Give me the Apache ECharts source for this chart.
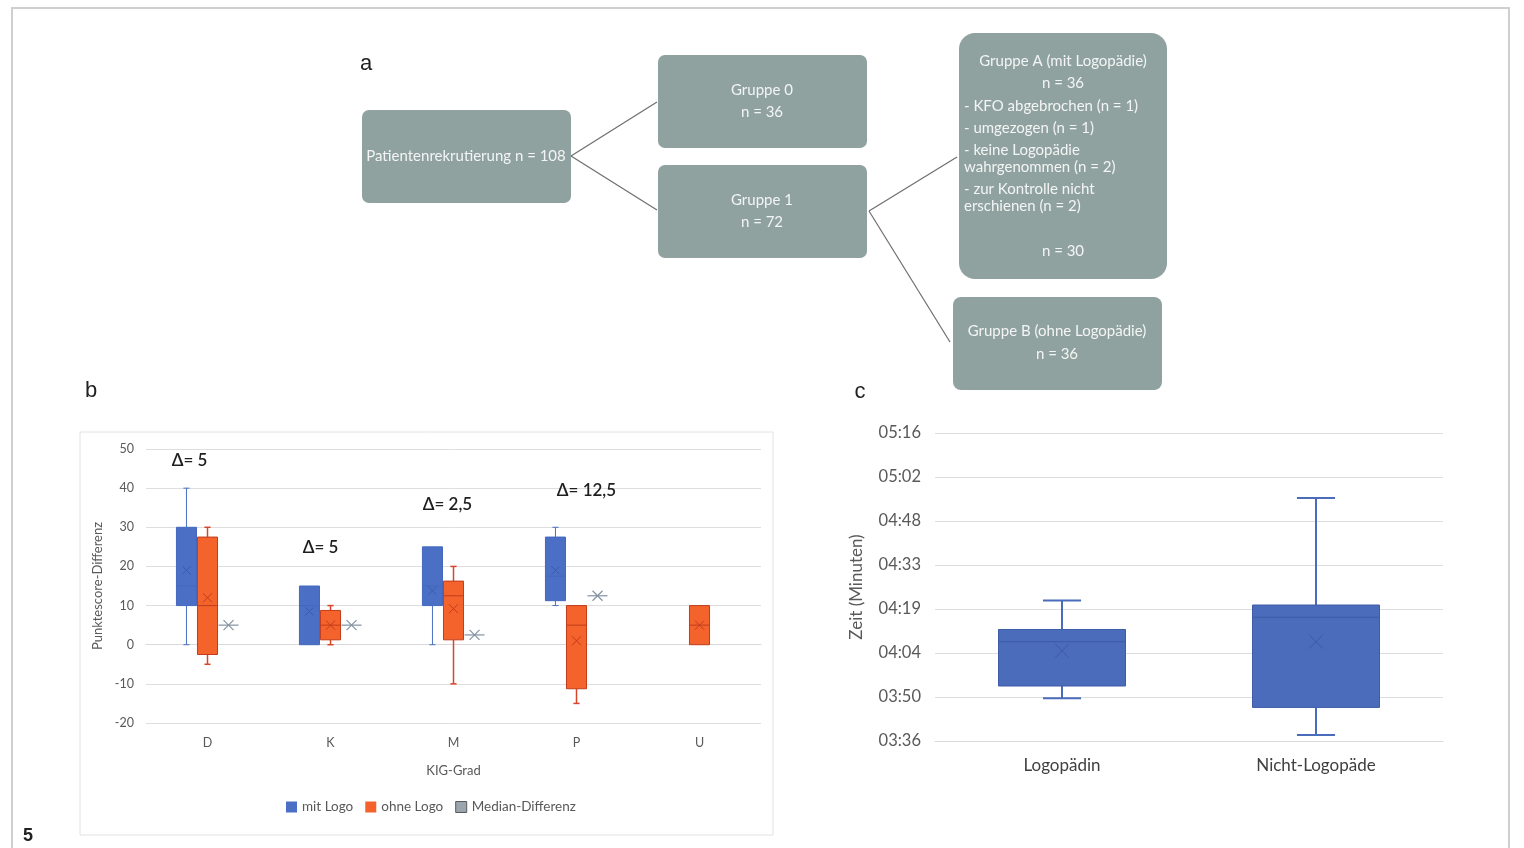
<!DOCTYPE html>
<html>
<head>
<meta charset="utf-8">
<script src="https://cdn.jsdelivr.net/npm/echarts@6/dist/echarts.min.js"></script>
<style>
  html, body { margin: 0; padding: 0; background: #ffffff; }
  #main { width: 1524px; height: 848px; }
</style>
</head>
<body>
<div id="main"></div>
<script>
// ---------- Panel b: score differences per KIG grade ----------
const kigCategories = ['D', 'K', 'M', 'P', 'U'];
// per grade: [min, q1, median, q3, max, mean]; null = no patients in that group
const mitLogo = [
  [0, 10, 15, 30, 40, 19],
  [0, 0, 10, 15, 15, 8.5],
  [0, 10, 15, 25, 25, 13.8],
  [10, 11.25, 17.5, 27.5, 30, 19],
  null
];
const ohneLogo = [
  [-5, -2.5, 10, 27.5, 30, 12],
  [0, 1.25, 5, 8.75, 10, 5],
  [-10, 1.25, 12.5, 16.25, 20, 9.2],
  [-15, -11.25, 5, 10, 10, 1],
  [0, 0, 5, 10, 10, 5]
];
const medianDiff = [5, 5, 2.5, 12.5, null];
const scoreAxis = { min: -20, max: 50, step: 10 };

// ---------- Panel c: session time (seconds) ----------
const therapistGroups = ['Logopädin', 'Nicht-Logopäde'];
// [min, q1, median, q3, max, mean] in seconds
const zeitStats = [
  [230, 234, 248.5, 252.5, 262, 245.5],
  [218, 227, 256.5, 260.5, 295.5, 248.5]
];
const zeitAxis = { min: 216, max: 316.8, step: 14.4 };

// ---------- flow chart texts ----------
const flowRecruit = 'Patientenrekrutierung n = 108';
const flowGroup0 = ['Gruppe 0', 'n = 36'];
const flowGroup1 = ['Gruppe 1', 'n = 72'];
const flowGroupAHead = ['Gruppe A (mit Logopädie)', 'n = 36'];
const flowGroupADropouts = ['- KFO abgebrochen (n = 1)', '- umgezogen (n = 1)', '- keine Logopädie', 'wahrgenommen (n = 2)', '- zur Kontrolle nicht', 'erschienen (n = 2)'];
const flowGroupAFinal = 'n = 30';
const flowGroupB = ['Gruppe B (ohne Logopädie)', 'n = 36'];

const BLUE = '#4a6fc5', BLUE_EDGE = '#4468be', BLUE_DARK = '#3b5cab';
const ORANGE = '#f3632b', ORANGE_DARK = '#c23c1b';
const GRAY = '#9aa5ad', GRAY_DARK = '#8391a0';
const BLUE_C = '#4a6cba', BLUE_C_DARK = '#3d5ba6';
const FONT = 'Lato, "Open Sans", sans-serif';

// draws one box-and-whisker glyph from [ci, min, q1, med, q3, max, mean]
function boxRenderer(cfg) {
  return function (params, api) {
    const ci = api.value(0);
    const band = api.size([1, 0])[0];
    const cx = api.coord([ci, 0])[0] + cfg.offset * band;
    const w = cfg.width * band;
    const cap = cfg.cap * band;
    const y = v => api.coord([ci, v])[1];
    const vMin = api.value(1), q1 = api.value(2), med = api.value(3),
          q3 = api.value(4), vMax = api.value(5), mean = api.value(6);
    const kids = [];
    const wl = { stroke: cfg.whisker, lineWidth: cfg.whiskerWidth };
    if (vMax > q3) {
      kids.push({ type: 'line', shape: { x1: cx, y1: y(vMax), x2: cx, y2: y(q3) }, style: wl });
      kids.push({ type: 'line', shape: { x1: cx - cap / 2, y1: y(vMax), x2: cx + cap / 2, y2: y(vMax) }, style: wl });
    }
    if (vMin < q1) {
      kids.push({ type: 'line', shape: { x1: cx, y1: y(q1), x2: cx, y2: y(vMin) }, style: wl });
      kids.push({ type: 'line', shape: { x1: cx - cap / 2, y1: y(vMin), x2: cx + cap / 2, y2: y(vMin) }, style: wl });
    }
    kids.push({
      type: 'rect',
      shape: { x: cx - w / 2, y: y(q3), width: w, height: y(q1) - y(q3) },
      style: { fill: cfg.fill, stroke: cfg.border, lineWidth: 1 }
    });
    kids.push({ type: 'line', shape: { x1: cx - w / 2, y1: y(med), x2: cx + w / 2, y2: y(med) }, style: { stroke: cfg.medianColor || cfg.border, lineWidth: 1 } });
    const ym = y(mean), s = cfg.mark;
    kids.push({ type: 'line', shape: { x1: cx - s, y1: ym - s, x2: cx + s, y2: ym + s }, style: { stroke: cfg.markColor, lineWidth: 1 } });
    kids.push({ type: 'line', shape: { x1: cx - s, y1: ym + s, x2: cx + s, y2: ym - s }, style: { stroke: cfg.markColor, lineWidth: 1 } });
    return { type: 'group', children: kids };
  };
}

// height (score units) and horizontal shift (px) of each Δ annotation
const deltaLabelAt = [47, 24.8, 35.8, 39.3];
const deltaLabelShift = [-18, -10, -6, 10];

function medianDiffRenderer(params, api) {
  const ci = api.value(0);
  const d = api.value(1);
  const band = api.size([1, 0])[0];
  const cx = api.coord([ci, 0])[0] + 0.171 * band;
  const w = 0.163 * band;
  const yd = api.coord([ci, d])[1];
  const s = 5;
  const st = { stroke: GRAY_DARK, lineWidth: 1.2 };
  const lp = api.coord([ci, deltaLabelAt[ci]]);
  return {
    type: 'group',
    children: [
      { type: 'line', shape: { x1: cx - w / 2, y1: yd, x2: cx + w / 2, y2: yd }, style: st },
      { type: 'line', shape: { x1: cx - s, y1: yd - s, x2: cx + s, y2: yd + s }, style: st },
      { type: 'line', shape: { x1: cx - s, y1: yd + s, x2: cx + s, y2: yd - s }, style: st },
      {
        type: 'text',
        style: {
          x: lp[0] + deltaLabelShift[ci], y: lp[1],
          text: 'Δ= ' + String(d).replace('.', ','),
          fill: '#1e1e1e', font: '600 17px ' + FONT,
          align: 'center', verticalAlign: 'middle'
        }
      }
    ]
  };
}

function toItems(arr) {
  return arr.map((s, i) => (s ? [i].concat(s) : null)).filter(Boolean);
}

function mmss(v) {
  const t = Math.floor(Math.round(v * 10) / 10);
  const m = Math.floor(t / 60), s = t % 60;
  return String(m).padStart(2, '0') + ':' + String(s).padStart(2, '0');
}

// flow chart drawing helpers
const BOX_FILL = '#8fa29f';
const TXT = '#f3f5f4';
function flowRect(x, y, w, h, r) {
  return { type: 'rect', shape: { x, y, width: w, height: h, r }, style: { fill: BOX_FILL }, z: 1 };
}
function flowText(text, x, y, align) {
  return { type: 'text', style: { text, x, y, fill: TXT, font: '15px ' + FONT, align: align || 'center', verticalAlign: 'middle' }, z: 2 };
}
function flowLine(x1, y1, x2, y2) {
  return { type: 'line', shape: { x1, y1, x2, y2 }, style: { stroke: '#6e6e6e', lineWidth: 1.2 }, z: 1 };
}

const graphics = [
  // page frame
  { type: 'polyline', shape: { points: [[12, 850], [12, 8], [1509, 8], [1509, 850]] }, style: { stroke: '#cfcfcf', lineWidth: 2, fill: null } },
  // panel b frame
  { type: 'rect', shape: { x: 80, y: 432, width: 693, height: 403 }, style: { fill: null, stroke: '#e2e2e2', lineWidth: 1 } },
  // panel letters
  { type: 'text', style: { text: 'a', x: 366, y: 64, font: '22px "Liberation Sans", Arial, sans-serif', fill: '#222', align: 'center', verticalAlign: 'middle' } },
  { type: 'text', style: { text: 'b', x: 91, y: 391, font: '22px "Liberation Sans", Arial, sans-serif', fill: '#222', align: 'center', verticalAlign: 'middle' } },
  { type: 'text', style: { text: 'c', x: 860, y: 392, font: '22px "Liberation Sans", Arial, sans-serif', fill: '#222', align: 'center', verticalAlign: 'middle' } },
  { type: 'text', style: { text: '5', x: 28, y: 836, font: 'bold 18px "Liberation Sans", Arial, sans-serif', fill: '#222', align: 'center', verticalAlign: 'middle' } },
  // connectors
  flowLine(571, 156, 657, 102),
  flowLine(571, 156, 657, 210),
  flowLine(869, 211, 957, 157),
  flowLine(869, 211, 950, 342),
  // boxes
  flowRect(362, 110, 209, 93, 7),
  flowText(flowRecruit, 466, 156),
  flowRect(658, 55, 209, 93, 7),
  flowText(flowGroup0[0], 762, 90),
  flowText(flowGroup0[1], 762, 112),
  flowRect(658, 165, 209, 93, 7),
  flowText(flowGroup1[0], 762, 200),
  flowText(flowGroup1[1], 762, 222),
  flowRect(959, 33, 208, 246, 16),
  flowText(flowGroupAHead[0], 1063, 61),
  flowText(flowGroupAHead[1], 1063, 83),
  flowText(flowGroupADropouts[0], 964, 106, 'left'),
  flowText(flowGroupADropouts[1], 964, 128, 'left'),
  flowText(flowGroupADropouts[2], 964, 150, 'left'),
  flowText(flowGroupADropouts[3], 964, 167, 'left'),
  flowText(flowGroupADropouts[4], 964, 189, 'left'),
  flowText(flowGroupADropouts[5], 964, 206, 'left'),
  flowText(flowGroupAFinal, 1063, 251),
  flowRect(953, 297, 209, 93, 8),
  flowText(flowGroupB[0], 1057, 331),
  flowText(flowGroupB[1], 1057, 354)
];

const chart = echarts.init(document.getElementById('main'));
chart.setOption({
  animation: false,
  backgroundColor: '#ffffff',
  textStyle: { fontFamily: FONT },
  graphic: graphics,
  legend: {
    data: [
      { name: 'mit Logo' },
      { name: 'ohne Logo' },
      { name: 'Median-Differenz', itemStyle: { color: GRAY, borderColor: '#5a5a5a', borderWidth: 1 } }
    ],
    left: 281, top: 795,
    icon: 'rect', itemWidth: 11, itemHeight: 11, itemGap: 12,
    textStyle: { fontFamily: FONT, fontSize: 13.5, color: '#595959' }
  },
  grid: [
    { left: 146, right: 1524 - 761, top: 449, bottom: 848 - 723 },
    { left: 935, right: 1524 - 1443, top: 433, bottom: 848 - 741 }
  ],
  xAxis: [
    {
      gridIndex: 0, type: 'category', data: kigCategories,
      axisLine: { lineStyle: { color: '#d9d9d9' } }, axisTick: { show: false },
      axisLabel: { color: '#595959', fontSize: 12.5, margin: 13, fontFamily: FONT },
      name: 'KIG-Grad', nameLocation: 'middle', nameGap: 41,
      nameTextStyle: { color: '#595959', fontSize: 13, fontFamily: FONT }
    },
    {
      gridIndex: 1, type: 'category', data: therapistGroups,
      axisLine: { lineStyle: { color: '#d9d9d9' } }, axisTick: { show: false },
      axisLabel: { color: '#404040', fontSize: 17, margin: 16, fontFamily: FONT }
    }
  ],
  yAxis: [
    {
      gridIndex: 0, type: 'value', min: scoreAxis.min, max: scoreAxis.max, interval: scoreAxis.step,
      axisLine: { show: false }, axisTick: { show: false },
      splitLine: { lineStyle: { color: '#dedede' } },
      axisLabel: { color: '#595959', fontSize: 12.5, margin: 12, fontFamily: FONT },
      name: 'Punktescore-Differenz', nameLocation: 'middle', nameGap: 42, nameRotate: 90,
      nameTextStyle: { color: '#595959', fontSize: 13, fontFamily: FONT }
    },
    {
      gridIndex: 1, type: 'value', min: zeitAxis.min, max: zeitAxis.max, interval: zeitAxis.step,
      axisLine: { show: false }, axisTick: { show: false },
      splitLine: { lineStyle: { color: '#dedede' } },
      axisLabel: { color: '#595959', fontSize: 16.5, margin: 14, fontFamily: FONT, formatter: mmss },
      name: 'Zeit (Minuten)', nameLocation: 'middle', nameGap: 70, nameRotate: 90,
      nameTextStyle: { color: '#595959', fontSize: 17, fontFamily: FONT }
    }
  ],
  series: [
    {
      name: 'mit Logo', type: 'custom', xAxisIndex: 0, yAxisIndex: 0,
      itemStyle: { color: BLUE },
      renderItem: boxRenderer({ offset: -0.171, width: 0.163, cap: 0.05, fill: BLUE, border: BLUE_EDGE, medianColor: BLUE_EDGE, whisker: BLUE, whiskerWidth: 1, mark: 4, markColor: BLUE_DARK }),
      data: toItems(mitLogo)
    },
    {
      name: 'ohne Logo', type: 'custom', xAxisIndex: 0, yAxisIndex: 0,
      itemStyle: { color: ORANGE },
      renderItem: boxRenderer({ offset: 0, width: 0.163, cap: 0.05, fill: ORANGE, border: ORANGE_DARK, whisker: '#d8462a', whiskerWidth: 1.5, mark: 4.5, markColor: ORANGE_DARK }),
      data: toItems(ohneLogo)
    },
    {
      name: 'Median-Differenz', type: 'custom', xAxisIndex: 0, yAxisIndex: 0,
      itemStyle: { color: GRAY },
      renderItem: medianDiffRenderer,
      data: medianDiff.map((d, i) => (d == null ? null : [i, d])).filter(Boolean)
    },
    {
      name: 'Zeit', type: 'custom', xAxisIndex: 1, yAxisIndex: 1,
      itemStyle: { color: BLUE_C },
      renderItem: boxRenderer({ offset: 0, width: 0.5, cap: 0.15, fill: BLUE_C, border: BLUE_C_DARK, whisker: BLUE_C, whiskerWidth: 2, mark: 7, markColor: BLUE_C_DARK }),
      data: toItems(zeitStats)
    }
  ]
});
</script>
</body>
</html>
